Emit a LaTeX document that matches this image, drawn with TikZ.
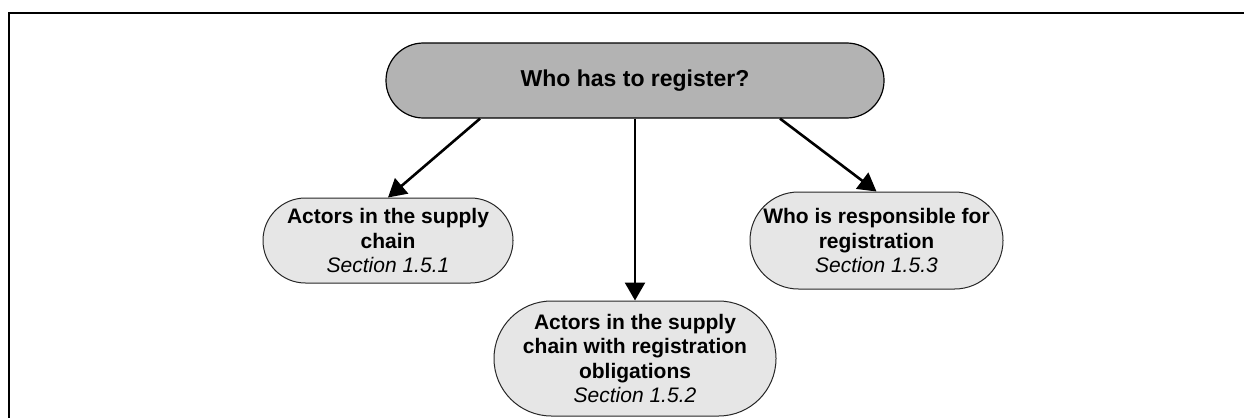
\documentclass[tikz,border=0pt]{standalone}
\usepackage{fontspec}
\setmainfont{Liberation Sans}
\usetikzlibrary{arrows.meta}
\definecolor{topgray}{RGB}{179,179,179}
\definecolor{subgray}{RGB}{230,230,230}
\tikzset{
  topbox/.style={draw=black, line width=1.2pt, fill=topgray, rounded corners=37.4pt,
    minimum width=498pt, minimum height=75pt, inner sep=0pt, align=center,
    font=\fontsize{23}{27}\selectfont\bfseries},
  subbox/.style={draw=black!85, line width=1pt, fill=subgray, inner sep=0pt, align=center,
    font=\fontsize{21}{24.5}\selectfont\bfseries},
  link/.style={line width=2.6pt, -{Triangle[length=18pt,width=20pt]}},
  frameline/.style={line width=2.2pt}
}
\begin{document}
\begin{tikzpicture}[x=1pt,y=-1pt]
\useasboundingbox (0,0) rectangle (1244,418);
\coordinate (fa) at (1244,13);
\coordinate (fb) at (9,13);
\coordinate (fc) at (9,418);
\draw[frameline] (fa) -- (fb) -- (fc);

\node[topbox] (top) at (635,80.5) {Who has to register?};
\node[subbox, minimum width=250pt, minimum height=85pt, rounded corners=42.4pt] (left) at (388,240.5)
  {Actors in the supply\\chain\\{\mdseries\itshape Section 1.5.1}};
\node[subbox, minimum width=253pt, minimum height=97pt, rounded corners=48.4pt] (right) at (876.5,240.5)
  {Who is responsible for\\registration\\{\mdseries\itshape Section 1.5.3}};
\node[subbox, minimum width=282pt, minimum height=115pt, rounded corners=57.4pt] (bot) at (635,358.5)
  {Actors in the supply\\chain with registration\\obligations\\{\mdseries\itshape Section 1.5.2}};

\draw[link] ([xshift=-155pt]top.south) -- (left.north);
\draw[link] (top.south) -- (bot.north);
\draw[link] ([xshift=145pt]top.south) -- (right.north);
\end{tikzpicture}
\end{document}
